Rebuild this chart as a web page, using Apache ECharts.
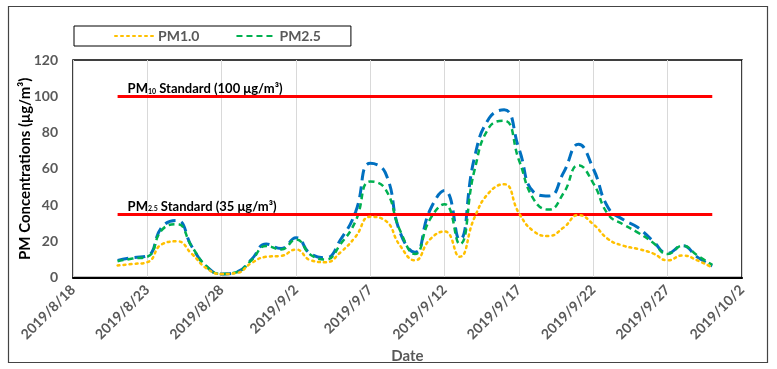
<!DOCTYPE html>
<html>
<head>
<meta charset="utf-8">
<script src="https://cdn.jsdelivr.net/npm/echarts@6/dist/echarts.min.js"></script>
<style>
  html, body { margin: 0; padding: 0; background: #fff; }
  #main { width: 777px; height: 369px; }
</style>
</head>
<body>
<div id="main"></div>
<script>
// daily dates, 2019/8/21 - 2019/9/30
var dates = [
  '2019-08-21', '2019-08-22', '2019-08-23', '2019-08-24', '2019-08-25', '2019-08-26', '2019-08-27',
  '2019-08-28', '2019-08-29', '2019-08-30', '2019-08-31', '2019-09-01', '2019-09-02', '2019-09-03',
  '2019-09-04', '2019-09-05', '2019-09-06', '2019-09-07', '2019-09-08', '2019-09-09', '2019-09-10',
  '2019-09-11', '2019-09-12', '2019-09-13', '2019-09-14', '2019-09-15', '2019-09-16', '2019-09-17',
  '2019-09-18', '2019-09-19', '2019-09-20', '2019-09-21', '2019-09-22', '2019-09-23', '2019-09-24',
  '2019-09-25', '2019-09-26', '2019-09-27', '2019-09-28', '2019-09-29', '2019-09-30'
];
var pm10 = [9.5, 11, 12, 28, 31.5, 17, 6, 2, 3, 10, 18.5, 16, 22, 13, 11, 21, 36, 63, 58, 25, 14,
  37, 48, 21, 66, 88, 92.5, 71, 47, 45, 58, 73.5, 60, 38.5, 32, 27.6, 20.3, 13.4, 17.6, 11.3, 6.5];
var pm25 = [9, 10.5, 11.5, 26.5, 29.5, 17, 6, 2, 3, 9.5, 17.5, 15.5, 21, 12.5, 10, 18.5, 31, 53, 49, 26, 13,
  32, 40.5, 18.5, 59, 83, 86.5, 64.7, 43, 37.5, 46.6, 62, 52, 34.8, 29.4, 24.8, 19.4, 13, 17.6, 12.2, 7];
var pm1 = [6.7, 7.5, 8.5, 18.5, 20, 13, 5, 2, 2.5, 8, 11.5, 12, 15.5, 9.5, 8.5, 14, 22.5, 33.5, 31.5, 17.6, 9.5,
  21, 25.5, 11.5, 33, 47, 51.5, 35.5, 25.5, 23, 27.6, 34.5, 29.4, 21.2, 17.6, 15.8, 13.4, 9.5, 12.2, 9.5, 5.5];
var standards = [100, 35];
var axisStart = '2019-08-18'; // x axis runs 45 days, tick every 5

function dayOf(s) {
  var p = s.split('-');
  var a = axisStart.split('-');
  return (Date.UTC(+p[0], p[1] - 1, +p[2]) - Date.UTC(+a[0], a[1] - 1, +a[2])) / 86400000;
}
function labelOf(d) {
  var a = axisStart.split('-');
  var t = new Date(Date.UTC(+a[0], a[1] - 1, +a[2]) + d * 86400000);
  return t.getUTCFullYear() + '/' + (t.getUTCMonth() + 1) + '/' + t.getUTCDate();
}
function pairs(vals) {
  return vals.map(function (v, i) { return [dayOf(dates[i]), v]; });
}

var firstDay = dayOf(dates[0]);
var lastDay = dayOf(dates[dates.length - 1]);
var font = 'Lato, "Open Sans", sans-serif';

var chart = echarts.init(document.getElementById('main'));
chart.setOption({
  animation: false,
  backgroundColor: '#fff',
  graphic: [{
    type: 'rect',
    shape: { x: 8.5, y: 6.5, width: 759, height: 356 },
    style: { fill: 'none', stroke: '#444', lineWidth: 1.2 }
  }],
  legend: {
    data: ['PM1.0', 'PM2.5'],
    left: 74,
    top: 26,
    width: 280,
    padding: [3, 30, 3, 40],
    borderColor: '#000',
    borderWidth: 1,
    itemWidth: 38,
    itemHeight: 10,
    itemGap: 36,
    itemStyle: { opacity: 0 },
    textStyle: { color: '#595959', fontFamily: font, fontWeight: 'bold', fontSize: 14 }
  },
  grid: {
    left: 73, right: 35, top: 60, bottom: 88,
    show: true, borderColor: '#000', borderWidth: 1.5
  },
  xAxis: {
    type: 'value',
    min: 0,
    max: 45,
    interval: 5,
    name: 'Date',
    nameLocation: 'middle',
    nameGap: 60,
    nameTextStyle: { color: '#595959', fontFamily: font, fontWeight: 'bold', fontSize: 15 },
    axisLine: { show: true, lineStyle: { color: '#000', width: 2 } },
    axisTick: { show: false },
    splitLine: { show: true, lineStyle: { color: '#d9d9d9', width: 1 } },
    axisLabel: {
      rotate: 45,
      margin: 10,
      color: '#595959',
      fontFamily: font,
      fontWeight: 'bold',
      fontSize: 14,
      formatter: function (v) { return labelOf(v); }
    }
  },
  yAxis: {
    type: 'value',
    min: 0,
    max: 120,
    interval: 20,
    name: 'PM Concentrations (μg/m³)',
    nameLocation: 'middle',
    nameGap: 40,
    nameMoveOverlap: false,
    nameTextStyle: { color: '#000', fontFamily: font, fontWeight: 'bold', fontSize: 15 },
    axisLine: { show: false },
    axisTick: { show: false },
    splitLine: { show: false },
    axisLabel: { color: '#595959', fontFamily: font, fontWeight: 'bold', fontSize: 14, margin: 15 }
  },
  series: [
    {
      name: 'PM10',
      type: 'line',
      smooth: 0.5,
      symbol: 'none',
      data: pairs(pm10),
      lineStyle: { color: '#0070c0', width: 3, type: [11, 6] },
      z: 3
    },
    {
      name: 'PM2.5',
      type: 'line',
      smooth: 0.5,
      symbol: 'none',
      data: pairs(pm25),
      itemStyle: { color: '#00b050' },
      lineStyle: { color: '#00b050', width: 2.5, type: [6, 4] },
      z: 4
    },
    {
      name: 'PM1.0',
      type: 'line',
      smooth: 0.5,
      symbol: 'none',
      data: pairs(pm1),
      itemStyle: { color: '#ffc000' },
      lineStyle: { color: '#ffc000', width: 2.5, type: [2, 4], cap: 'round' },
      z: 5,
      markLine: {
        silent: true,
        symbol: 'none',
        lineStyle: { color: '#ff0000', width: 3, type: 'solid' },
        label: {
          show: true,
          position: 'insideStartTop',
          distance: [10, 1],
          color: '#000',
          fontFamily: font,
          fontSize: 13,
          fontWeight: 'bold',
          rich: {
            sub: { fontSize: 7, fontWeight: 'bold', color: '#000', fontFamily: font, padding: [5, 0, 0, 0] }
          }
        },
        data: [
          [
            { coord: [firstDay, standards[0]],
              label: { formatter: 'PM{sub|10} Standard (100 μg/m³)' } },
            { coord: [lastDay, standards[0]] }
          ],
          [
            { coord: [firstDay, standards[1]],
              label: { formatter: 'PM{sub|2.5} Standard (35 μg/m³)' } },
            { coord: [lastDay, standards[1]] }
          ]
        ]
      }
    }
  ]
});
</script>
</body>
</html>
